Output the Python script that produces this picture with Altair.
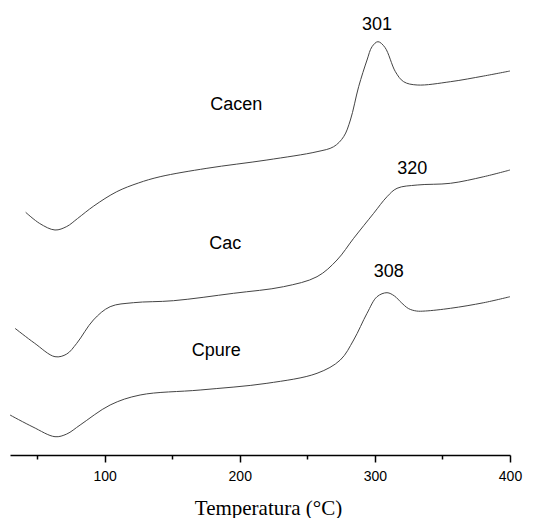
import altair as alt
import pandas as pd

# Temperature (°C) and relative heat-flow signal (arbitrary units)
cacen_t = [41.6, 52.0, 63.3, 72.0, 80.0, 92.0, 109.0, 125.0, 141.1, 175.7, 220.1, 257.2, 269.5,
           276.9, 281.9, 288.0, 294.2, 297.9, 302.3, 307.5, 315.2, 321.3, 331.3, 355.9, 380.6, 400.0]
cacen_v = [242.7, 231.5, 225.0, 228.5, 236.5, 249.0, 263.3, 272.0, 278.3, 286.7, 295.0, 303.3,
           308.3, 318.3, 335.0, 368.3, 395.0, 408.3, 413.3, 407.5, 383.3, 373.3, 370.0, 373.3,
           379.0, 384.0]

cac_t = [33.7, 48.0, 63.3, 72.0, 79.4, 91.7, 104.1, 121.3, 151.0, 195.4, 232.4, 257.2, 272.0,
         284.3, 299.1, 309.0, 316.4, 331.3, 355.9, 380.6, 400.0]
cac_v = [126.7, 112.0, 98.3, 101.0, 111.7, 135.0, 148.3, 152.3, 154.3, 161.7, 168.3, 178.3,
         195.0, 216.7, 241.7, 258.3, 266.7, 270.0, 271.7, 278.3, 285.0]

cpure_t = [30.0, 47.0, 63.3, 72.0, 81.9, 104.1, 126.3, 170.7, 220.1, 257.2, 274.4, 284.3,
           294.2, 301.6, 309.0, 314.5, 319.5, 324.8, 330.7, 337.4, 355.9, 380.6, 400.0]
cpure_v = [40.0, 28.0, 18.3, 21.0, 30.0, 50.0, 60.0, 65.0, 71.7, 81.7, 95.0, 115.0, 141.7,
           158.3, 162.3, 159.0, 152.5, 146.5, 144.0, 144.0, 146.7, 152.3, 158.3]

label_text = ["301", "Cacen", "320", "Cac", "308", "Cpure"]
label_t = [301.6, 197.4, 327.6, 189.3, 310.2, 182.6]
label_v = [430.0, 350.5, 286.0, 211.5, 183.0, 104.0]

rows = []
for name, ts, vs in [("Cacen", cacen_t, cacen_v), ("Cac", cac_t, cac_v), ("Cpure", cpure_t, cpure_v)]:
    for t, v in zip(ts, vs):
        rows.append({"sample": name, "T": t, "v": v})
df = pd.DataFrame(rows)
labels = pd.DataFrame({"text": label_text, "T": label_t, "v": label_v})

x_scale = alt.Scale(domain=[30, 400], nice=False, zero=False)
y_scale = alt.Scale(domain=[0, 447], nice=False, zero=False)

x_axis = alt.Axis(
    values=[50, 100, 150, 200, 250, 300, 350, 400],
    labelExpr="datum.value % 100 === 0 ? datum.label : ''",
    tickSize={"condition": {"test": "datum.value % 100 === 0", "value": 7}, "value": 4},
    grid=False,
    domainColor="black", domainWidth=1.5,
    tickColor="black", tickWidth=1.5,
    labelFont="Liberation Sans", labelFontSize=14, labelColor="black",
    labelPadding=7, labelOverlap=False, labelBound=False, labelFlush=False,
    title="Temperatura (°C)",
    titleFont="Liberation Serif", titleFontSize=21, titleFontWeight="normal",
    titleColor="black", titlePadding=14, titleX=258, titleAlign="center",
)

lines = alt.Chart(df).mark_line(color="#444444", strokeWidth=1, interpolate="catmull-rom").encode(
    x=alt.X("T:Q", scale=x_scale, axis=x_axis),
    y=alt.Y("v:Q", scale=y_scale, axis=None),
    detail="sample:N",
)

texts = alt.Chart(labels).mark_text(
    font="Liberation Sans", fontSize=18, color="black", align="center", baseline="middle"
).encode(
    x=alt.X("T:Q", scale=x_scale),
    y=alt.Y("v:Q", scale=y_scale),
    text="text:N",
)

chart = alt.layer(lines, texts).properties(
    width=500, height=447,
    padding={"left": 2, "top": 0, "right": 20, "bottom": 63},
    autosize=alt.AutoSizeParams(type="none"),
).configure_view(stroke=None)

chart.save("out.html", embed_options={"renderer": "svg", "actions": False})
